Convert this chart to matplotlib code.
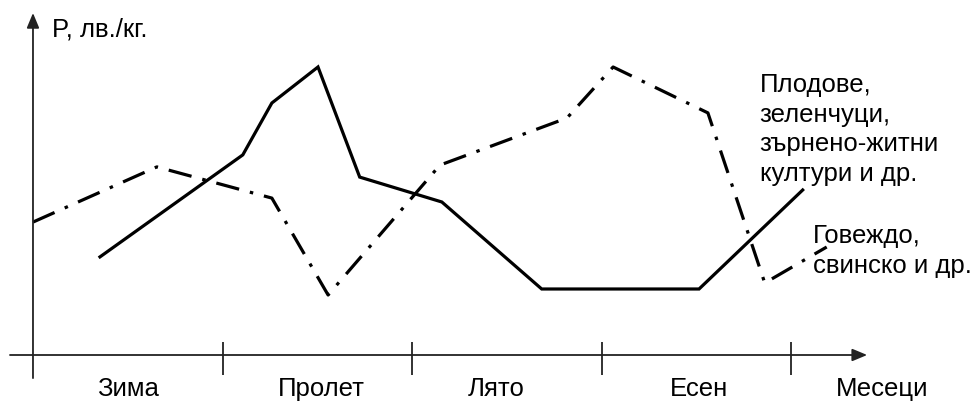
import matplotlib.pyplot as plt

plt.rcParams['font.family'] = ['Liberation Sans', 'DejaVu Sans']
plt.rcParams['lines.scale_dashes'] = False

# months from the start of winter, price in arbitrary units
crops_x = [1.06, 3.32, 3.78, 4.51, 5.17, 6.47, 8.05, 10.54, 12.18]
crops_y = [3.27, 6.67, 8.40, 9.60, 5.93, 5.10, 2.20, 2.20, 5.50]

meat_x = [0.0, 1.96, 3.78, 4.67, 6.44, 8.45, 9.18, 10.68, 11.58, 12.56]
meat_y = [4.43, 6.27, 5.23, 2.00, 6.33, 7.90, 9.60, 8.07, 2.40, 3.60]

season_ticks = [3, 6, 9, 12]
season_labels = ['Зима', 'Пролет', 'Лято', 'Есен', 'Месеци']
season_label_x = [1.50, 4.57, 7.33, 10.54, 13.43]

crops_label = ['Плодове,', 'зеленчуци,', 'зърнено-житни', 'култури и др.']
meat_label = ['Говеждо,', 'свинско и др.']

fig = plt.figure(figsize=(9.79, 4.03), dpi=100)
ax = fig.add_axes([0, 0, 1, 1])
ax.set_xlim(-0.522, 14.97)
ax.set_ylim(-1.6, 11.833)
ax.axis('off')

axis_kw = dict(arrowstyle='-|>,head_length=0.6,head_width=0.25', lw=1.3,
               color='#222222', mutation_scale=15, shrinkA=0, shrinkB=0)
ax.annotate('', xy=(13.2, 0), xytext=(-0.364, 0), arrowprops=axis_kw)
ax.annotate('', xy=(0, 11.4), xytext=(0, -0.77), arrowprops=axis_kw)
ax.vlines(season_ticks, -0.67, 0.43, color='#222222', lw=1.3)

ax.plot(crops_x, crops_y, color='black', lw=2.3, solid_joinstyle='miter')
ax.plot(meat_x, meat_y, color='black', lw=2.3,
        linestyle=(0, (17, 8, 2.5, 8)))

fs = 18.5
ax.text(0.30, 10.63, 'P, лв./кг.', fontsize=fs, va='baseline', ha='left')
for x, lab in zip(season_label_x, season_labels):
    ax.text(x, -1.52, lab, fontsize=fs, va='bottom', ha='center')

for i, lab in enumerate(crops_label):
    ax.text(11.5, 8.77 - i * 0.99, lab, fontsize=fs, va='baseline', ha='left')
for i, lab in enumerate(meat_label):
    ax.text(12.34, 3.73 - i * 1.0, lab, fontsize=fs, va='baseline', ha='left')

fig.savefig('out.png', dpi=100)
